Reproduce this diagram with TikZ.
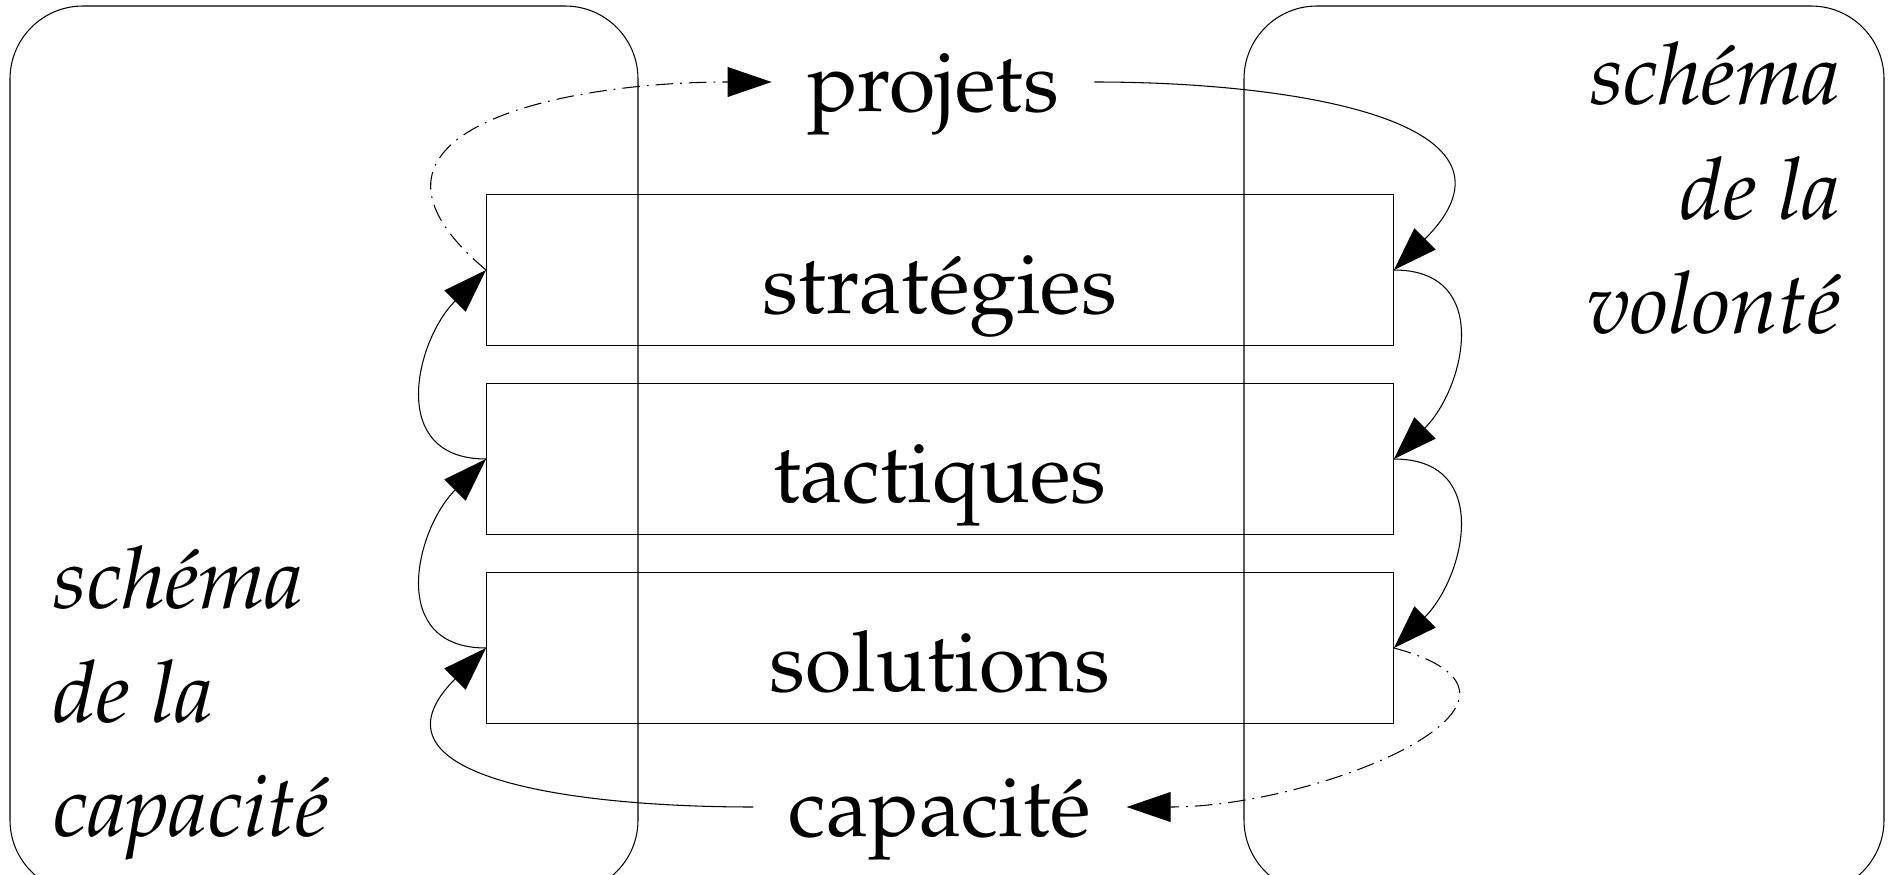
\documentclass[tikz,border=0pt]{standalone}
\usepackage[T1]{fontenc}
\usepackage{mathpazo}
\usetikzlibrary{arrows.meta}

\tikzset{
	levelbox/.style={draw, minimum width=18.14cm, minimum height=3.02cm, inner sep=0pt, text height=49pt, text depth=0pt},
	flowlabel/.style={inner xsep=0.7cm, inner ysep=0pt, text height=34pt, text depth=0pt},
	schemaline/.style={inner sep=0pt, font=\fontsize{49}{64}\selectfont\itshape},
	dashchain/.style={dash pattern=on 10pt off 4pt on 1pt off 4pt},
}

\begin{document}
\begin{tikzpicture}[x=0.02cm, y=-0.02cm, >={Triangle[length=25pt,width=17pt]}, line width=0.6pt, font=\fontsize{48}{60}\selectfont]
	\useasboundingbox (0,0) rectangle (1894,875);

	%rounded frames
	\draw[rounded corners=1.46cm] (10,6) rectangle (638,893);		%capacite
	\draw[rounded corners=1.46cm] (1244,6) rectangle (1884,893);	%volonte

	%levels
	\node[levelbox] (strat) at (940,270) {strat\'egies};
	\node[levelbox] (tact)  at (940,459) {tactiques};
	\node[levelbox] (sol)   at (940,648) {solutions};

	%top and bottom labels
	\node[flowlabel] (proj) at (933,82)  {projets};
	\node[flowlabel] (cap)  at (940,807) {capacit\'e};

	%schema labels, right
	\node[schemaline, anchor=base east] (vol1) at (1841,105) {sch\'ema};
	\node[schemaline, anchor=base east] (vol2) at (1841,219) {de la};
	\node[schemaline, anchor=base east] (vol3) at (1841,333) {volont\'e};
	%schema labels, left
	\node[schemaline, anchor=base west] (cap1) at (53,608) {sch\'ema};
	\node[schemaline, anchor=base west] (cap2) at (53,722) {de la};
	\node[schemaline, anchor=base west] (cap3) at (53,836) {capacit\'e};

	%right side arrows
	\draw[->] (proj.east) to[out=0,in=45,looseness=1.5] (strat.east);
	\draw[->] (strat.east) to[out=0,in=45,looseness=1.35] (tact.east);
	\draw[->] (tact.east) to[out=0,in=45,looseness=1.35] (sol.east);
	\draw[->,dashchain] (sol.east) to[out=-15,in=0,looseness=1.6] (cap.east);

	%left side arrows
	\draw[->] (cap.west) to[out=180,in=225,looseness=1.5] (sol.west);
	\draw[->] (sol.west) to[out=180,in=225,looseness=1.35] (tact.west);
	\draw[->] (tact.west) to[out=180,in=225,looseness=1.35] (strat.west);
	\draw[->,dashchain] (strat.west) to[out=140,in=180,looseness=1.6] (proj.west);
\end{tikzpicture}
\end{document}
